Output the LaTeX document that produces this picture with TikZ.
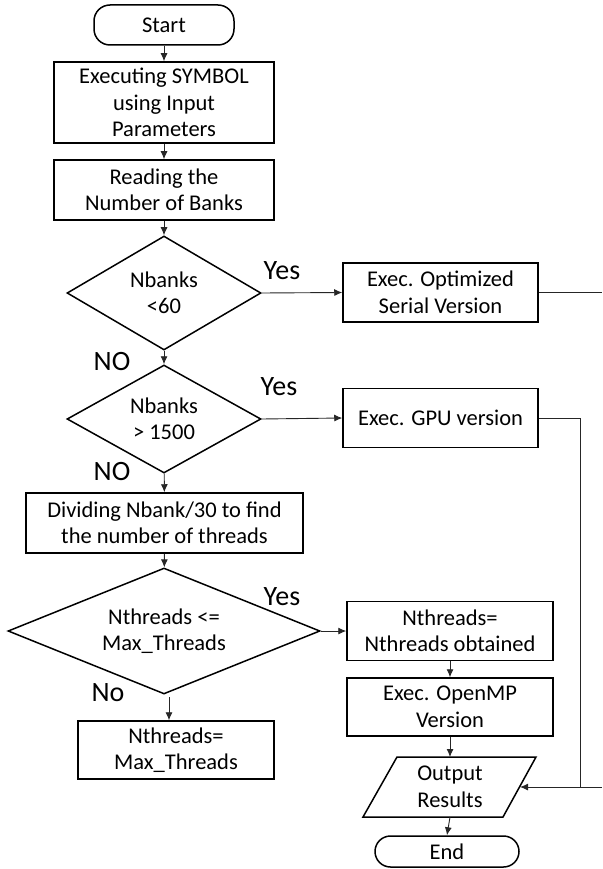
\documentclass[tikz,border=0pt]{standalone}
\usepackage{fontspec}
\setmainfont{Carlito}
\usetikzlibrary{shapes.geometric,arrows.meta}
\begin{document}
\begin{tikzpicture}[x=1pt,y=-1pt,
  every node/.style={font=\fontsize{22.5}{26.5}\selectfont, align=center, inner sep=0pt},
  procbox/.style={draw, line width=1.5pt},
  termbox/.style={draw, line width=1.5pt, rounded corners=16pt},
  decbox/.style={draw, line width=1.5pt, diamond, aspect=#1},
  lbl/.style={font=\fontsize{28}{32}\selectfont},
  conn/.style={line width=0.9pt, draw=black!85},
  arr/.style={conn, -{Latex[length=8pt,width=7pt]}}]
\useasboundingbox (0,0) rectangle (602,869);
% nodes
\node[termbox, minimum width=140pt, minimum height=40pt] (start) at (164,25) {Start};
\node[procbox, minimum width=220pt, minimum height=81pt] (b1) at (164,102.5) {Executing SYMBOL\\using Input\\Parameters};
\node[procbox, minimum width=220pt, minimum height=60pt] (b2) at (164,190) {Reading the\\Number of Banks};
\node[decbox=1.7, minimum width=194pt, minimum height=114pt] (d1) at (164,293) {Nbanks\\<60};
\node[procbox, minimum width=195pt, minimum height=59pt] (ser) at (440.5,292.5) {Exec. Optimized\\Serial Version};
\node[decbox=1.8, minimum width=194pt, minimum height=108pt] (d2) at (164,419) {Nbanks\\> 1500};
\node[procbox, minimum width=195pt, minimum height=59pt] (gpu) at (440.5,418) {Exec. GPU version};
\node[procbox, minimum width=277pt, minimum height=60pt] (b3) at (164.5,523) {Dividing Nbank/30 to find\\the number of threads};
\node[decbox=2.5, minimum width=312pt, minimum height=126pt] (d3) at (164,631) {Nthreads <=\\Max\_Threads};
\node[procbox, minimum width=206pt, minimum height=59pt] (b4) at (450,631) {Nthreads=\\Nthreads obtained};
\node[procbox, minimum width=206pt, minimum height=58pt] (b5) at (450,707) {Exec. OpenMP\\Version};
\node[procbox, minimum width=196pt, minimum height=58pt] (mt) at (176,750) {Nthreads=\\Max\_Threads};
\node (out) at (450,787) {Output\\Results};
\draw[line width=1.5pt] (363,817) -- (397,757) -- (536,757) -- (503,817) -- cycle;
\coordinate (outtop) at (450,757);
\coordinate (outbot) at (450,817);
\coordinate (outright) at (520,787);
\node[termbox, minimum width=144pt, minimum height=31pt, rounded corners=15.5pt] (end) at (447,851.5) {End};
% labels
\node[lbl] (y1) at (282,271) {Yes};
\node[lbl] (y2) at (279,387) {Yes};
\node[lbl] (y3) at (282,597) {Yes};
\node[lbl] (n1) at (112,362) {NO};
\node[lbl] (n2) at (112,472) {NO};
\node[lbl] (n3) at (108,693) {No};
% connectors
\draw[arr] (start) -- (b1);
\draw[arr] (b1) -- (b2);
\draw[arr] (b2) -- (d1);
\draw[arr] (d1) -- (d2);
\draw[arr] (d2) -- (b3);
\draw[arr] (b3) -- (d3);
\draw[arr] (d1.east) -- (ser.west);
\draw[arr] (d2.east) -- (gpu.west);
\draw[arr] (d3.east) -- (b4.west);
\draw[arr] (b4) -- (b5);
\draw[arr] (b5.south) -- (outtop);
\draw[arr] (outbot) -- (end.north);
\coordinate (mtin) at (169,697);
\draw[arr] (mtin) -- (mtin |- mt.north);
\coordinate (rserial) at (602,292.5);
\draw[conn] (ser.east) -- (rserial);
\coordinate (gpuc) at (580,418);
\coordinate (gpud) at (580,787);
\coordinate (redge) at (602,787);
\draw[arr] (gpu.east) -- (gpuc) -- (gpud) -- (outright);
\draw[conn] (gpud) -- (redge);
\end{tikzpicture}
\end{document}
